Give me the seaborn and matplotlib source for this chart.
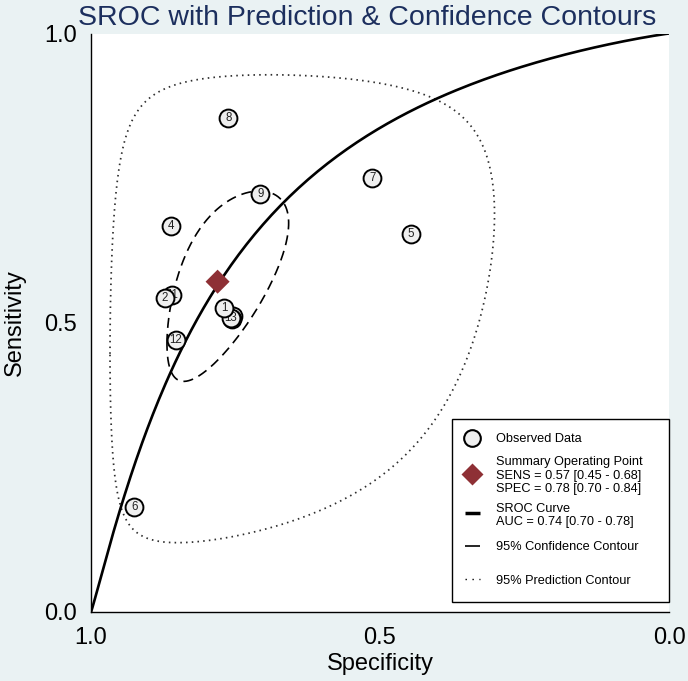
import numpy as np
import pandas as pd
import matplotlib
matplotlib.use("Agg")
import matplotlib.pyplot as plt
from matplotlib.patches import Rectangle
import seaborn as sns

# ---------------- data ----------------
# studies listed in drawing order (overlapped ones first)
study_ids = [3, 10, 11, 13, 1, 2, 4, 5, 6, 7, 8, 9, 12]
spec_vals = [0.754, 0.756, 0.860, 0.758, 0.770, 0.872, 0.862, 0.446, 0.925, 0.513, 0.7625, 0.707, 0.853]
sens_vals = [0.511, 0.506, 0.548, 0.508, 0.525, 0.543, 0.667, 0.654, 0.181, 0.750, 0.854, 0.722, 0.471]
label_shown = [False, False, True, True, True, True, True, True, True, True, True, True, True]

summary_spec = 0.781
summary_sens = 0.571

# SROC: logit(sens) = a + b * logit(1 - spec)
sroc_a = 1.635
sroc_b = 1.08

# contours in logit space (scaled semi-extents and correlation)
conf_sx, conf_sy, conf_rho = 0.617, 0.697, -0.62
pred_sx, pred_sy, pred_rho = 2.11, 2.28, -0.22

legend_entries = [
    ["Observed Data"],
    ["Summary Operating Point", "SENS = 0.57 [0.45 - 0.68]", "SPEC = 0.78 [0.70 - 0.84]"],
    ["SROC Curve", "AUC = 0.74 [0.70 - 0.78]"],
    ["95% Confidence Contour"],
    ["95% Prediction Contour"],
]
title = "SROC with Prediction & Confidence Contours"
tick_vals = [0.0, 0.5, 1.0]
tick_labels = ["0.0", "0.5", "1.0"]

# ---------------- helpers ----------------
def logit(p):
    return np.log(p / (1 - p))

def expit(x):
    return 1 / (1 + np.exp(-x))

def contour(mspec, msens, sx, sy, rho, n=500):
    t = np.linspace(0, 2 * np.pi, n)
    lx = logit(mspec) + sx * np.cos(t)
    ly = logit(msens) + sy * (rho * np.cos(t) + np.sqrt(1 - rho ** 2) * np.sin(t))
    return pd.DataFrame({"spec": expit(lx), "sens": expit(ly)})

# ---------------- figure ----------------
sns.set_theme(style="white")
plt.rcParams["font.family"] = ["Liberation Sans", "DejaVu Sans"]

W, H = 688, 681
AX_L, AX_R, AX_T, AX_B = 91, 669, 33.5, 612
bg = "#EAF2F3"
fig = plt.figure(figsize=(W / 100, H / 100), dpi=100, facecolor=bg)
ax = fig.add_axes([AX_L / W, 1 - AX_B / H, (AX_R - AX_L) / W, (AX_B - AX_T) / H])
ax.set_facecolor("white")

def axx(px):
    return (px - AX_L) / (AX_R - AX_L)

def axy(py):
    return (AX_B - py) / (AX_B - AX_T)

# prediction contour
pred = contour(summary_spec, summary_sens, pred_sx, pred_sy, pred_rho)
sns.lineplot(data=pred, x="spec", y="sens", sort=False, estimator=None, ax=ax,
             color="#2e2e2e", lw=1.25, linestyle=(0, (0.9, 2.4)), zorder=2)

# confidence contour
conf = contour(summary_spec, summary_sens, conf_sx, conf_sy, conf_rho)
sns.lineplot(data=conf, x="spec", y="sens", sort=False, estimator=None, ax=ax,
             color="black", lw=1.2, linestyle=(0, (6, 3.6)), zorder=2)

# SROC curve
lf = np.linspace(-14, 14, 800)
fpr = expit(lf)
sroc = pd.DataFrame({"spec": np.r_[1.0, 1 - fpr, 0.0],
                     "sens": np.r_[0.0, expit(sroc_a + sroc_b * lf), 1.0]})
sns.lineplot(data=sroc, x="spec", y="sens", sort=False, estimator=None, ax=ax,
             color="black", lw=1.9, zorder=3)

# observed studies
z = 4
for sid, sp, se, show in zip(study_ids, spec_vals, sens_vals, label_shown):
    sns.scatterplot(x=[sp], y=[se], ax=ax, s=165, color="#EFEFEF",
                    edgecolor="black", linewidth=1.4, zorder=z, legend=False)
    if show:
        ax.text(sp, se, str(sid), ha="center", va="center", fontsize=8.3,
                color="#222222", zorder=z + 0.5)
    z += 1

# summary point
sns.scatterplot(x=[summary_spec], y=[summary_sens], ax=ax, marker="D", s=150,
                color="#8E3035", edgecolor="none", zorder=z + 1, legend=False)

# axes
ax.set_xlim(1.0, 0.0)
ax.set_ylim(0.0, 1.0)
ax.set_xticks(tick_vals)
ax.set_xticklabels(tick_labels)
ax.set_yticks(tick_vals)
ax.set_yticklabels(tick_labels)
for side in ["top", "right"]:
    ax.spines[side].set_visible(False)
for side in ["left", "bottom"]:
    ax.spines[side].set_color("black")
    ax.spines[side].set_linewidth(1.0)
ax.tick_params(axis="both", direction="out", length=6, width=1.0, color="black",
               labelsize=17, labelcolor="black")
ax.tick_params(axis="x", pad=5)
ax.tick_params(axis="y", pad=4)
ax.set_xlabel("Specificity", fontsize=17, color="black", labelpad=3)
ax.set_ylabel("Sensitivity", fontsize=17, color="black", labelpad=13)

fig.text(367 / W, 1 - 25 / H, title, ha="center", va="baseline",
         fontsize=20.5, color="#1C2F5E")

# ---------------- legend (drawn as a box in axes coordinates) ----------------
tr = ax.transAxes
box_l, box_r, box_t, box_b = 452, 669, 419, 602
ax.add_patch(Rectangle((axx(box_l), axy(box_b)), axx(box_r) - axx(box_l),
                       axy(box_t) - axy(box_b), transform=tr, facecolor="white",
                       edgecolor="black", lw=1.0, zorder=30, clip_on=False))
key_x = 472
key_x0, key_x1 = 465, 480
text_x = 496
line_step = 13.5
key_y = [438, 474, 514, 546, 579]
for entry, ky in zip(legend_entries, key_y):
    n = len(entry)
    y0 = ky - (n - 1) * line_step / 2
    for i, line in enumerate(entry):
        ax.text(axx(text_x), axy(y0 + i * line_step), line, transform=tr,
                ha="left", va="center_baseline", fontsize=9.2, color="black",
                zorder=31, clip_on=False)
# keys
ax.plot([axx(key_x)], [axy(key_y[0])], transform=tr, ls="", marker="o", ms=12,
        mfc="#EFEFEF", mec="black", mew=1.5, zorder=31, clip_on=False)
ax.plot([axx(key_x)], [axy(key_y[1])], transform=tr, ls="", marker="D", ms=11,
        mfc="#8E3035", mec="none", zorder=31, clip_on=False)
ax.plot([axx(key_x0), axx(key_x1)], [axy(key_y[2] - 1)] * 2, transform=tr,
        color="black", lw=2.5, solid_capstyle="butt", zorder=31, clip_on=False)
ax.plot([axx(key_x0), axx(key_x1)], [axy(key_y[3])] * 2, transform=tr,
        color="black", lw=1.2, solid_capstyle="butt", zorder=31, clip_on=False)
ax.plot([axx(key_x0), axx(key_x1)], [axy(key_y[4])] * 2, transform=tr,
        color="black", lw=1.0, ls=(0, (1, 4)), zorder=31, clip_on=False)

fig.savefig("out.png", dpi=100, facecolor=bg)
